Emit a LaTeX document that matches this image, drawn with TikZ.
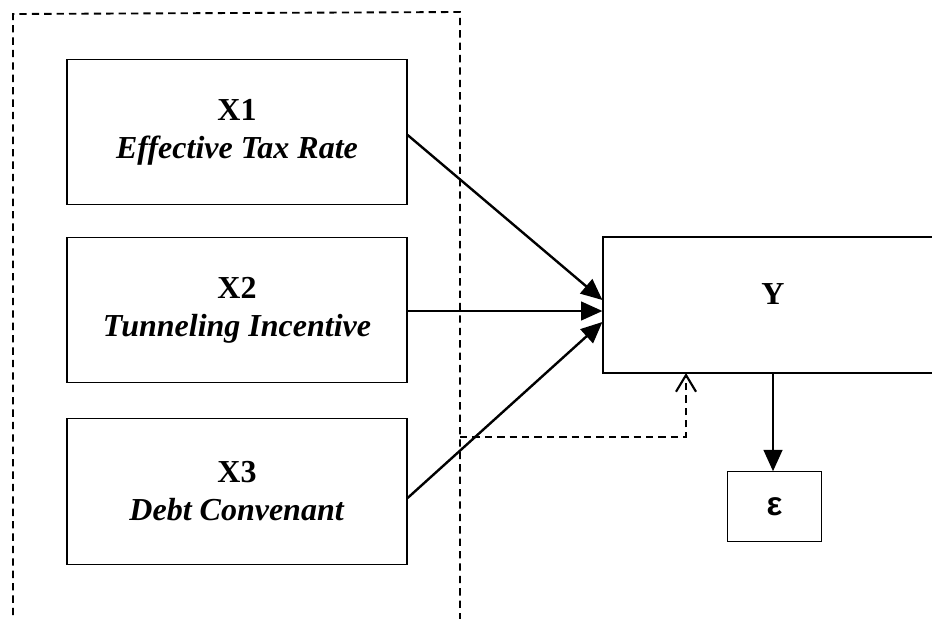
\documentclass[tikz,border=0pt]{standalone}
\usepackage{fontspec}
\setmainfont{Liberation Serif}
\newfontfamily\epsfont{Liberation Sans}
\usetikzlibrary{arrows.meta,calc}
\begin{document}
\begin{tikzpicture}[x=0.75pt,y=-0.75pt,
  varbox/.style={draw,line width=0.9pt,minimum width=255pt,minimum height=109pt,
    inner sep=0pt,align=center,font=\fontsize{24}{28.5}\selectfont},
  ybox/.style={draw,line width=0.9pt,minimum width=255pt,minimum height=102pt,inner sep=0pt},
  epsbox/.style={draw,line width=0.9pt,minimum width=71pt,minimum height=52pt,inner sep=0pt,
    font=\epsfont\bfseries\fontsize{25}{28}\selectfont},
  lbl/.style={inner sep=0pt,font=\bfseries\fontsize{24}{28.5}\selectfont},
  arr/.style={line width=1.8pt,-{Triangle[length=16pt,width=14pt]}},
  dashline/.style={line width=1.4pt,dash pattern=on 5.5pt off 3.8pt},
  openarr/.style={line width=1.3pt,dash pattern=on 5.5pt off 3.8pt,-{Straight Barb[length=12.5pt,width=15pt,line width=1.6pt]}}
]
\useasboundingbox (0,0) rectangle (932,618);
\clip (0,0) rectangle (932,618);
% dashed frame (open at the bottom)
\coordinate (fbl) at (13,640);
\coordinate (ftl) at (13,14);
\coordinate (ftr) at (460,12);
\coordinate (fbr) at (460,640);
\draw[dashline] (fbl) -- (ftl) -- (ftr) -- (fbr);
% variable boxes
\node[varbox] (X1) at (237,132) {\textbf{X1}\\\textbf{\textit{Effective Tax Rate}}};
\node[varbox] (X2) at (237,310) {\textbf{X2}\\\textbf{\textit{Tunneling Incentive}}};
\node[varbox] (X3) at (237,491.5) {\textbf{X3}\\\textbf{\textit{Debt Convenant}}};
% Y box
\node[ybox] (Y) at (773,305) {};
\node[lbl] (Ylbl) at (773,294) {Y};
% epsilon box
\node[epsbox] (E) at (774.5,506.5) {ε};
% incoming points on Y
\coordinate (in1) at ($(Y.west)+(0,-5)$);
\coordinate (in2) at ($(Y.west)+(0,6)$);
\coordinate (in3) at ($(Y.west)+(0,17)$);
\draw[arr] ($(X1.east)+(0,3)$) -- (in1);
\draw[arr] ($(X2.east)+(0,1)$) -- (in2);
\draw[arr] ($(X3.east)+(0,6.5)$) -- (in3);
% Y to epsilon
\draw[arr] (Y.south) -- (Y.south |- E.north);
% dashed moderating arrow
\coordinate (dstart) at (460,437);
\coordinate (dend) at (686,373);
\draw[openarr] (dstart) -| (dend);
\end{tikzpicture}
\end{document}
